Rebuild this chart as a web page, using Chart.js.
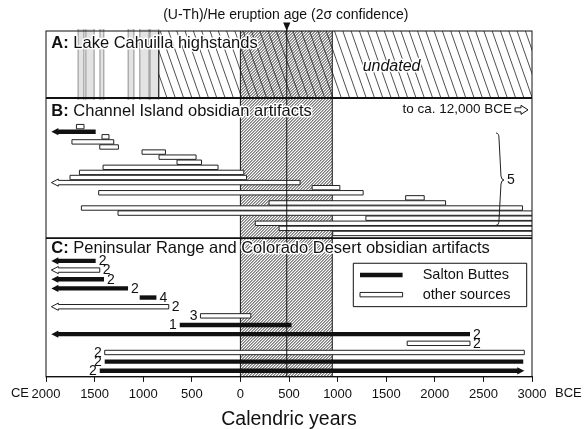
<!DOCTYPE html>
<html>
<head>
<meta charset="utf-8">
<script src="https://cdn.jsdelivr.net/npm/chart.js@4.4.1/dist/chart.umd.min.js"></script>
<style>
  html, body { margin: 0; padding: 0; background: #fff; }
  canvas { display: block; }
</style>
</head>
<body>
<canvas id="chart" width="585" height="429"></canvas>
<script>
// ============================================
// Obsidian artifact ages vs. Salton Buttes eruption age
// x values are calendric years: negative = CE, positive = BCE
// ============================================

// x axis ticks
const xTickValues = [-2000, -1500, -1000, -500, 0, 500, 1000, 1500, 2000, 2500, 3000];
const xTickLabels = ['2000', '1500', '1000', '500', '0', '500', '1000', '1500', '2000', '2500', '3000'];

// (U-Th)/He eruption age and its 2σ range
const eruptionAge = 477;
const eruptionLow = 0;
const eruptionHigh = 945;

// A: Lake Cahuilla highstands (dated) and the undated part
const highstandStart = [-1670, -1590, -1445, -1155, -1035, -930];
const highstandEnd = [-1610, -1505, -1405, -1095, -940, -840];
const undatedFrom = -840;

// B: Channel Island obsidian artifacts (one row each, top to bottom)
const bStart = [-1687, -1945, -1424, -1733, -1447, -1012, -837, -652, -1413, -1656, -1753, -1945,
  738, -1458, 1700, 295, -1636, -1259, 1291, 153, 398, 950];
const bEnd = [-1609, -1489, -1352, -1303, -1255, -771, -456, -400, -230, 35, 63, 614,
  1023, 1263, 1891, 2111, 2902, 12000, 12000, 12000, 12000, 12000];
const bSource = ['other', 'salton', 'other', 'other', 'other', 'other', 'other', 'other', 'other', 'other', 'other', 'other',
  'other', 'other', 'other', 'other', 'other', 'other', 'other', 'other', 'other', 'other'];
const bArrow = ['', 'left', '', '', '', '', '', '', '', '', '', 'left',
  '', '', '', '', '', '', '', '', '', ''];

// C: Peninsular Range and Colorado Desert obsidian artifacts
const cStart = [-1945, -1945, -1945, -1945, -1036, -1945, -411, -624, -1945, 1716, -1396, -1396, -1447];
const cEnd = [-1489, -1447, -1403, -1156, -864, -737, 107, 526, 2362, 2362, 2921, 2910, 2921];
const cSource = ['salton', 'other', 'salton', 'salton', 'salton', 'other', 'other', 'salton', 'salton', 'other', 'other', 'salton', 'salton'];
const cArrow = ['left', 'left', 'left', 'left', '', 'left', '', '', 'left', '', '', '', 'right'];
const cCount = ['2', '2', '2', '2', '4', '2', '3', '1', '2', '2', '2', '2', '2'];

// ---- layout (y in row units of the hidden y scale) ----
const FONT = '"Liberation Sans", Arial, sans-serif';
const INK = '#111';
const Y_MAX = 68;
const PANEL_AB = 13.17;
const PANEL_BC = 40.7;
const B_ROW0 = 18.8;
const C_ROW0 = 45.2;
const C_STEP = 1.8;
const C_LEFT_LABELS = [6, 7, 10, 11, 12];
const BAR_H = 4.4;
const HEAD_L = 7;
const HEAD_H = 3.6;

function barPath(ctx, x0, x1, yc, arrow) {
  const h = BAR_H / 2;
  ctx.beginPath();
  if (arrow === 'left') {
    ctx.moveTo(x0, yc);
    ctx.lineTo(x0 + HEAD_L, yc - HEAD_H);
    ctx.lineTo(x0 + HEAD_L, yc - h);
    ctx.lineTo(x1, yc - h);
    ctx.lineTo(x1, yc + h);
    ctx.lineTo(x0 + HEAD_L, yc + h);
    ctx.lineTo(x0 + HEAD_L, yc + HEAD_H);
  } else if (arrow === 'right') {
    ctx.moveTo(x1, yc);
    ctx.lineTo(x1 - HEAD_L, yc - HEAD_H);
    ctx.lineTo(x1 - HEAD_L, yc - h);
    ctx.lineTo(x0, yc - h);
    ctx.lineTo(x0, yc + h);
    ctx.lineTo(x1 - HEAD_L, yc + h);
    ctx.lineTo(x1 - HEAD_L, yc + HEAD_H);
  } else {
    ctx.rect(x0, yc - h, x1 - x0, BAR_H);
  }
  ctx.closePath();
}

function drawBar(ctx, x0, x1, yc, source, arrow) {
  barPath(ctx, x0, x1, yc, arrow);
  if (source === 'salton') {
    ctx.fillStyle = INK;
    ctx.fill();
  } else {
    ctx.fillStyle = '#fff';
    ctx.fill();
    ctx.strokeStyle = '#222';
    ctx.lineWidth = 1;
    ctx.stroke();
  }
}

function haloText(ctx, text, x, y) {
  ctx.strokeStyle = '#fff';
  ctx.lineWidth = 3;
  ctx.lineJoin = 'round';
  ctx.strokeText(text, x, y);
  ctx.fillStyle = INK;
  ctx.fillText(text, x, y);
}

function panelTitle(ctx, tag, text, x, y) {
  ctx.textAlign = 'left';
  ctx.textBaseline = 'alphabetic';
  ctx.font = 'bold 16.5px ' + FONT;
  haloText(ctx, tag, x, y);
  const w = ctx.measureText(tag + ' ').width;
  ctx.font = '16.5px ' + FONT;
  haloText(ctx, text, x + w, y);
}

function hatch(ctx, x0, y0, x1, y1, step, slope, dir, width) {
  // dir 1: "/" lines, dir -1: "\" lines
  const h = y1 - y0;
  const dx = h * slope;
  ctx.save();
  ctx.beginPath();
  ctx.rect(x0, y0, x1 - x0, h);
  ctx.clip();
  ctx.beginPath();
  for (let sx = x0 - dx - step; sx < x1 + step; sx += step) {
    if (dir > 0) {
      ctx.moveTo(sx, y1);
      ctx.lineTo(sx + dx, y0);
    } else {
      ctx.moveTo(sx, y0);
      ctx.lineTo(sx + dx, y1);
    }
  }
  ctx.strokeStyle = '#222';
  ctx.lineWidth = width;
  ctx.stroke();
  ctx.restore();
}

const figurePlugin = {
  id: 'figure',
  beforeDraw(chart) {
    const ctx = chart.ctx;
    ctx.save();
    ctx.fillStyle = '#fff';
    ctx.fillRect(0, 0, chart.width, chart.height);
    ctx.restore();
  },
  afterDraw(chart) {
    const { ctx, chartArea: a, scales } = chart;
    const X = v => scales.x.getPixelForValue(v);
    const Y = v => scales.y.getPixelForValue(v);
    const top = a.top, bot = a.bottom, left = a.left, right = a.right;
    const yAB = Y(PANEL_AB), yBC = Y(PANEL_BC);

    ctx.save();

    // A: highstand bands
    for (let i = 0; i < highstandStart.length; i++) {
      const x0 = X(highstandStart[i]), x1 = X(highstandEnd[i]);
      ctx.fillStyle = '#e3e3e3';
      ctx.fillRect(x0, top - 2, x1 - x0, yAB - top + 4);
      ctx.strokeStyle = '#777';
      ctx.lineWidth = 0.8;
      ctx.beginPath();
      ctx.moveTo(x0, top - 2); ctx.lineTo(x0, yAB + 2);
      ctx.moveTo(x1, top - 2); ctx.lineTo(x1, yAB + 2);
      ctx.stroke();
    }

    // eruption age 2σ band, all panels
    hatch(ctx, X(eruptionLow), top, X(eruptionHigh), bot, 3, 1, 1, 0.95);
    // undated part of panel A
    hatch(ctx, X(undatedFrom), top, right, yAB, 8.3, 0.35, -1, 0.8);

    ctx.strokeStyle = INK;
    ctx.lineWidth = 1;
    ctx.beginPath();
    ctx.moveTo(X(eruptionLow), top); ctx.lineTo(X(eruptionLow), bot);
    ctx.moveTo(X(eruptionHigh), top); ctx.lineTo(X(eruptionHigh), bot);
    ctx.moveTo(X(undatedFrom), top); ctx.lineTo(X(undatedFrom), yAB);
    ctx.stroke();

    // bars
    ctx.save();
    ctx.beginPath();
    ctx.rect(left, top, right - left, bot - top);
    ctx.clip();
    for (let i = 0; i < bStart.length; i++) {
      drawBar(ctx, X(bStart[i]), X(bEnd[i]), Y(B_ROW0 + i), bSource[i], bArrow[i]);
    }
    for (let i = 0; i < cStart.length; i++) {
      drawBar(ctx, X(cStart[i]), X(cEnd[i]), Y(C_ROW0 + i * C_STEP), cSource[i], cArrow[i]);
    }
    ctx.restore();

    // eruption age line + marker
    const xe = X(eruptionAge);
    ctx.strokeStyle = INK;
    ctx.lineWidth = 1;
    ctx.beginPath();
    ctx.moveTo(xe, top - 8); ctx.lineTo(xe, bot);
    ctx.stroke();
    ctx.fillStyle = INK;
    ctx.beginPath();
    ctx.moveTo(xe, top);
    ctx.lineTo(xe - 3.6, top - 8.5);
    ctx.lineTo(xe + 3.6, top - 8.5);
    ctx.closePath();
    ctx.fill();

    // panel frames
    ctx.strokeStyle = INK;
    ctx.lineWidth = 1;
    ctx.strokeRect(left, top, right - left, bot - top);
    ctx.lineWidth = 1.8;
    ctx.beginPath();
    ctx.moveTo(left, yAB); ctx.lineTo(right, yAB);
    ctx.moveTo(left, yBC); ctx.lineTo(right, yBC);
    ctx.stroke();

    // titles
    panelTitle(ctx, 'A:', 'Lake Cahuilla highstands', X(-1945), Y(3.4));
    panelTitle(ctx, 'B:', 'Channel Island obsidian artifacts', X(-1945), Y(16.65));
    panelTitle(ctx, 'C:', 'Peninsular Range and Colorado Desert obsidian artifacts', X(-1945), Y(43.57));

    ctx.font = 'italic 16px ' + FONT;
    ctx.textAlign = 'center';
    haloText(ctx, 'undated', X(1555), Y(7.86));

    ctx.font = '13.5px ' + FONT;
    ctx.textAlign = 'right';
    ctx.fillStyle = INK;
    ctx.fillText('to ca. 12,000 BCE', right - 20, Y(16.18));
    // open arrow after it
    const ax = right - 17, ay = Y(15.5);
    ctx.beginPath();
    ctx.moveTo(ax, ay - 2);
    ctx.lineTo(ax + 6, ay - 2);
    ctx.lineTo(ax + 6, ay - 4.5);
    ctx.lineTo(ax + 13, ay);
    ctx.lineTo(ax + 6, ay + 4.5);
    ctx.lineTo(ax + 6, ay + 2);
    ctx.lineTo(ax, ay + 2);
    ctx.closePath();
    ctx.fillStyle = '#fff';
    ctx.fill();
    ctx.strokeStyle = INK;
    ctx.lineWidth = 1;
    ctx.stroke();

    // brace for the five artifacts running to ca. 12,000 BCE
    const bx = X(2650), by0 = Y(20.05), by1 = Y(38.2), bym = Y(29.3);
    ctx.beginPath();
    ctx.moveTo(bx - 2, by0);
    ctx.quadraticCurveTo(bx + 1, by0, bx + 1, by0 + 5);
    ctx.lineTo(bx + 3, bym - 4);
    ctx.quadraticCurveTo(bx + 3.5, bym, bx + 6, bym);
    ctx.quadraticCurveTo(bx + 3.5, bym, bx + 3, bym + 4);
    ctx.lineTo(bx + 1, by1 - 5);
    ctx.quadraticCurveTo(bx + 1, by1, bx - 2, by1);
    ctx.strokeStyle = '#222';
    ctx.lineWidth = 1;
    ctx.stroke();
    ctx.font = '14px ' + FONT;
    ctx.textAlign = 'left';
    ctx.textBaseline = 'middle';
    ctx.fillStyle = INK;
    ctx.fillText('5', bx + 9, bym + 0.5);

    // C: artifact counts
    ctx.font = '14px ' + FONT;
    for (let i = 0; i < cStart.length; i++) {
      const yc = Y(C_ROW0 + i * C_STEP) + 0.5;
      if (C_LEFT_LABELS.includes(i)) {
        ctx.textAlign = 'right';
        ctx.fillText(cCount[i], X(cStart[i]) - 3, yc);
      } else {
        ctx.textAlign = 'left';
        ctx.fillText(cCount[i], X(cEnd[i]) + 3, yc);
      }
    }

    // legend
    const lx = right - 178.7, ly0 = Y(45.66), ly1 = Y(54.19);
    ctx.fillStyle = '#fff';
    ctx.fillRect(lx, ly0, 173.4, ly1 - ly0);
    ctx.strokeStyle = INK;
    ctx.lineWidth = 1;
    ctx.strokeRect(lx, ly0, 173.4, ly1 - ly0);
    drawBar(ctx, lx + 6.7, lx + 49.3, Y(47.96), 'salton', '');
    drawBar(ctx, lx + 6.7, lx + 49.3, Y(51.83), 'other', '');
    ctx.font = '14.5px ' + FONT;
    ctx.textAlign = 'left';
    ctx.textBaseline = 'middle';
    ctx.fillStyle = INK;
    ctx.fillText('Salton Buttes', lx + 69.4, Y(47.96) + 0.5);
    ctx.fillText('other sources', lx + 69.4, Y(51.83) + 0.5);

    // header over the eruption line
    ctx.font = '14px ' + FONT;
    ctx.textAlign = 'center';
    ctx.textBaseline = 'alphabetic';
    ctx.fillText('(U-Th)/He eruption age (2\u03c3 confidence)', xe - 1, top - 12);

    // CE / BCE beside the end tick labels
    ctx.font = '13px ' + FONT;
    ctx.textBaseline = 'top';
    ctx.textAlign = 'right';
    ctx.fillText('CE', X(-2000) - 17, bot + 10);
    ctx.textAlign = 'left';
    ctx.fillText('BCE', X(3000) + 23, bot + 10);

    ctx.restore();
  }
};

Chart.defaults.font.family = FONT;
Chart.defaults.color = INK;

new Chart(document.getElementById('chart'), {
  type: 'scatter',
  data: { datasets: [{ data: [], pointRadius: 0 }] },
  options: {
    responsive: false,
    animation: false,
    events: [],
    layout: { padding: { left: 46, right: 53, top: 31, bottom: 0 } },
    plugins: { legend: { display: false }, tooltip: { enabled: false } },
    scales: {
      x: {
        type: 'linear',
        min: -2000,
        max: 3000,
        afterBuildTicks: scale => { scale.ticks = xTickValues.map(v => ({ value: v })); },
        ticks: {
          callback: (v, i) => xTickLabels[i],
          color: INK,
          font: { size: 13 },
          padding: 5,
          maxRotation: 0,
          autoSkip: false,
        },
        grid: { drawOnChartArea: false, drawTicks: true, tickLength: 5, color: INK },
        border: { display: true, color: INK, width: 1 },
        title: {
          display: true,
          text: 'Calendric years',
          color: INK,
          font: { size: 19.5, lineHeight: 1 },
          padding: { top: 2, bottom: 0 },
        },
      },
      y: { type: 'linear', min: 0, max: Y_MAX, reverse: true, display: false },
    },
  },
  plugins: [figurePlugin],
});
</script>
</body>
</html>
